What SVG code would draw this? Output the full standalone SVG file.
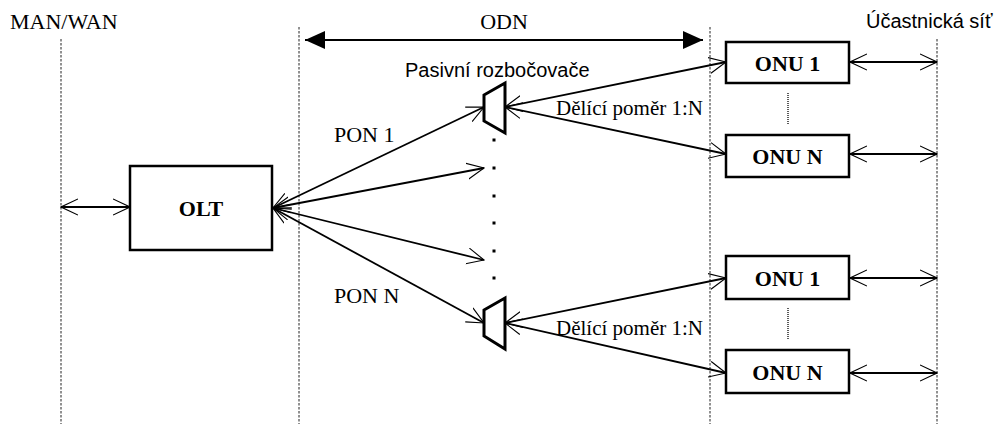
<svg xmlns="http://www.w3.org/2000/svg" width="998" height="424" viewBox="0 0 998 424">
<style>
.serif{font-family:"Liberation Serif","Times New Roman",serif;fill:#000}
.sans{font-family:"Liberation Sans",Arial,sans-serif;fill:#000}
.bold{font-family:"Liberation Serif","Times New Roman",serif;font-weight:bold;font-size:22px;text-anchor:middle;fill:#000}
.box{fill:#fff;stroke:#000;stroke-width:2.5}
.split{fill:#fff;stroke:#000;stroke-width:3;stroke-linejoin:miter}
.dash{stroke:#222;stroke-width:1;stroke-dasharray:2.5 1.5;fill:none}
.conn{stroke:#000;stroke-width:1.8;fill:none;marker-start:url(#open);marker-end:url(#open)}
.dots{stroke:#333;stroke-width:1.6;stroke-dasharray:1 1;fill:none}
</style>
<defs>
<marker id="open" viewBox="0 0 18 18" refX="17" refY="9" markerWidth="18" markerHeight="18" markerUnits="userSpaceOnUse" orient="auto-start-reverse">
<path d="M0,1 L17,9 L0,17" fill="none" stroke="#000" stroke-width="1.1"/>
</marker>
<marker id="solid" viewBox="0 0 20 18" refX="20" refY="9" markerWidth="20" markerHeight="18" markerUnits="userSpaceOnUse" orient="auto-start-reverse">
<path d="M0,0 L20,9 L0,18 z" fill="#000"/>
</marker>
</defs>

<g id="boundaries">
<line class="dash" x1="61" y1="39" x2="61" y2="424"/>
<line class="dash" x1="299" y1="27" x2="299" y2="424"/>
<line class="dash" x1="710" y1="27" x2="710" y2="424"/>
<line class="dash" x1="937" y1="39" x2="937" y2="424"/>
</g>

<g id="labels">
<text class="serif" x="10" y="29" font-size="22">MAN/WAN</text>
<text class="serif" x="504" y="29" font-size="22" text-anchor="middle">ODN</text>
<text class="sans" x="866" y="28" font-size="20">Účastnická síť</text>
<text class="sans" x="405" y="77" font-size="20">Pasivní rozbočovače</text>
<text class="serif" x="334" y="142" font-size="22">PON 1</text>
<text class="serif" x="334" y="303" font-size="22">PON N</text>
<text class="serif" x="556" y="115" font-size="21">Dělící poměr 1:N</text>
<text class="serif" x="556" y="335" font-size="21">Dělící poměr 1:N</text>
</g>

<g id="connectors">
<line x1="305" y1="40" x2="703" y2="40" stroke="#000" stroke-width="2.2" marker-start="url(#solid)" marker-end="url(#solid)"/>
<line class="conn" x1="61" y1="207" x2="130" y2="207"/>
<line class="conn" x1="273" y1="208" x2="484" y2="107"/>
<line class="conn" x1="273" y1="208" x2="484" y2="168"/>
<line class="conn" x1="273" y1="208" x2="484" y2="260"/>
<line class="conn" x1="273" y1="208" x2="484" y2="323"/>
<line class="conn" x1="505" y1="107" x2="726" y2="62"/>
<line class="conn" x1="505" y1="107" x2="726" y2="154"/>
<line class="conn" x1="505" y1="323" x2="726" y2="278"/>
<line class="conn" x1="505" y1="323" x2="726" y2="373"/>
<line class="conn" x1="850" y1="62" x2="937" y2="62"/>
<line class="conn" x1="850" y1="154" x2="937" y2="154"/>
<line class="conn" x1="850" y1="278" x2="937" y2="278"/>
<line class="conn" x1="850" y1="373" x2="937" y2="373"/>
<line class="dots" x1="788" y1="93" x2="788" y2="125"/>
<line class="dots" x1="788" y1="308" x2="788" y2="340"/>
<g fill="#000">
<rect x="492.5" y="138.5" width="3" height="3"/>
<rect x="492.5" y="166.5" width="3" height="3"/>
<rect x="492.5" y="194.5" width="3" height="3"/>
<rect x="492.5" y="221.5" width="3" height="3"/>
<rect x="492.5" y="249.5" width="3" height="3"/>
<rect x="492.5" y="276.5" width="3" height="3"/>
</g>
</g>

<g id="olt">
<rect class="box" x="130" y="166" width="142" height="84"/>
<text class="bold" x="201" y="216">OLT</text>
</g>
<g id="splitter1">
<polygon class="split" points="484,95 505,83 505,133 484,121"/>
</g>
<g id="splitter2">
<polygon class="split" points="484,310 505,298 505,349 484,336"/>
</g>
<g id="onu1a">
<rect class="box" x="726" y="42" width="123" height="41"/>
<text class="bold" x="787.5" y="71">ONU 1</text>
</g>
<g id="onuNa">
<rect class="box" x="726" y="135" width="123" height="42"/>
<text class="bold" x="787.5" y="164">ONU N</text>
</g>
<g id="onu1b">
<rect class="box" x="726" y="256" width="123" height="43"/>
<text class="bold" x="787.5" y="286">ONU 1</text>
</g>
<g id="onuNb">
<rect class="box" x="726" y="350" width="123" height="43"/>
<text class="bold" x="787.5" y="380">ONU N</text>
</g>
</svg>
